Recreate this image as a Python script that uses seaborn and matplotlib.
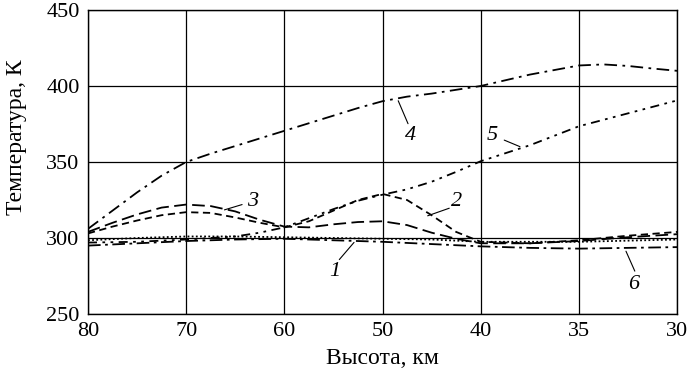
"""Temperature profiles vs altitude, six model curves."""

import matplotlib
matplotlib.use("Agg")
import matplotlib.pyplot as plt
import numpy as np
import pandas as pd
import seaborn as sns
from matplotlib.ticker import FixedLocator

# data
alt_ticks = [80, 70, 60, 50, 40, 35, 30]

alt_1 = [80, 75, 70, 65, 60, 55, 50, 45, 40, 35, 30]
temp_1 = [298.5, 300, 301, 301, 300.5, 300, 299.5, 299, 297.5, 297.5, 299]

alt_23 = [80, 77.5, 75, 72.5, 70, 67.5, 65, 62.5, 60, 57.5, 55, 52.5, 50,
          47.5, 45, 42.5, 40, 37.5, 35, 32.5, 30]
temp_2 = [303, 307.5, 311.5, 315, 317, 316.5, 313.5, 310, 307, 311, 318, 325, 329,
          325, 315, 304, 297.5, 296.5, 298.5, 301.5, 304]
temp_3 = [304, 310, 315.5, 320, 322, 321, 317.5, 312, 307.5, 307, 309, 310.5, 311,
          308.5, 303.5, 299.5, 296.5, 296.5, 298, 300.5, 302.5]

alt_4 = [80, 77.5, 75, 72.5, 70, 67.5, 65, 62.5, 60, 57.5, 55, 52.5, 50,
         47.5, 45, 42.5, 40, 37.5, 35, 33.75, 32.5, 31.25, 30]
temp_4 = [306, 318, 330, 341, 350, 355.5, 360.5, 365.5, 370.5, 375.5, 380.5, 385.5, 390,
          393, 395, 397.5, 400, 407.5, 413.5, 414.2, 413.2, 411.5, 410]

alt_5 = [80, 75, 70, 65, 62.5, 60, 57.5, 55, 52.5, 50, 47.5, 45, 42.5, 40,
         37.5, 35, 32.5, 30]
temp_5 = [297, 297.5, 299, 301, 303.5, 307, 313, 319, 324.5, 328.5, 332, 337, 343.5, 350.5,
          361, 373.5, 382, 390.5]

alt_6 = [80, 75, 70, 65, 60, 55, 50, 45, 40, 37.5, 35, 32.5, 30]
temp_6 = [295, 296.5, 298, 299, 299.5, 298.5, 297.5, 296, 294.5, 293.5, 293, 293.5, 294]

curves = {
    "1": (alt_1, temp_1, (0, (1, 1.3))),
    "2": (alt_23, temp_2, (0, (4, 2.5))),
    "3": (alt_23, temp_3, (0, (7, 3))),
    "4": (alt_4, temp_4, (0, (7, 3, 1.5, 3))),
    "5": (alt_5, temp_5, (0, (5, 3, 1.5, 3, 1.5, 3))),
    "6": (alt_6, temp_6, (0, (7, 2.5, 1.5, 2.5))),
}

# curve labels: text position, leader start, leader end (altitude, temperature)
labels = {
    "1": ((54.9, 278.2), (54.4, 285.8), (52.9, 297.1)),
    "2": ((42.5, 323.9), (43.2, 319.6), (45.4, 314.6)),
    "3": ((63.25, 324.0), (64.3, 322.0), (66.1, 318.5)),
    "4": ((47.1, 367.7), (47.4, 375.2), (48.4, 390.3)),
    "5": ((39.4, 367.5), (38.8, 364.4), (38.0, 360.1)),
    "6": ((32.2, 269.5), (32.15, 278.2), (32.6, 291.3)),
}

sns.set_theme(style="white")
plt.rcParams["font.family"] = ["Liberation Serif", "DejaVu Serif"]

# the altitude axis is evenly spaced between labelled ticks (80..40 by 10, then 35, 30)
pos_alt = [30, 35, 40, 50, 60, 70, 80]
pos_idx = [0, 1, 2, 3, 4, 5, 6]


def _fwd(x):
    return np.interp(x, pos_alt, pos_idx)


def _inv(p):
    return np.interp(p, pos_idx, pos_alt)


fig = plt.figure(figsize=(6.9, 3.75), dpi=100)
ax = fig.add_axes([0.1275, 0.1627, 0.9812 - 0.1275, 0.9733 - 0.1627])
ax.set_xscale("function", functions=(_fwd, _inv))

for name, (alt, temp, style) in curves.items():
    frame = pd.DataFrame({"alt": alt, "temp": temp})
    sns.lineplot(data=frame, x="alt", y="temp", ax=ax, color="black",
                 linewidth=1.3, linestyle=style, estimator=None, sort=False)

for name, (txt, start, end) in labels.items():
    ax.plot([start[0], end[0]], [start[1], end[1]], color="black", linewidth=0.8)
    ax.text(txt[0], txt[1], name, fontsize=16, style="italic", color="black",
            ha="center", va="center")

ax.set_xlim(80, 30)
ax.set_ylim(250, 450)
ax.xaxis.set_major_locator(FixedLocator(alt_ticks))
ax.xaxis.set_minor_locator(FixedLocator([]))
ax.set_xticklabels([str(t) for t in alt_ticks])
ax.yaxis.set_major_locator(FixedLocator([250, 300, 350, 400, 450]))
ax.grid(True, color="black", linewidth=0.9)
for spine in ax.spines.values():
    spine.set_color("black")
    spine.set_linewidth(1.0)
ax.tick_params(axis="both", length=0, labelsize=16, colors="black", pad=6)
ax.set_xlabel("Высота, км", fontsize=17, color="black")
ax.set_ylabel("Температура, К", fontsize=17, color="black")
ax.xaxis.set_label_coords(0.5, -0.112)
ax.yaxis.set_label_coords(-0.103, 0.58)

fig.savefig("out.png", dpi=100)
plt.close(fig)
